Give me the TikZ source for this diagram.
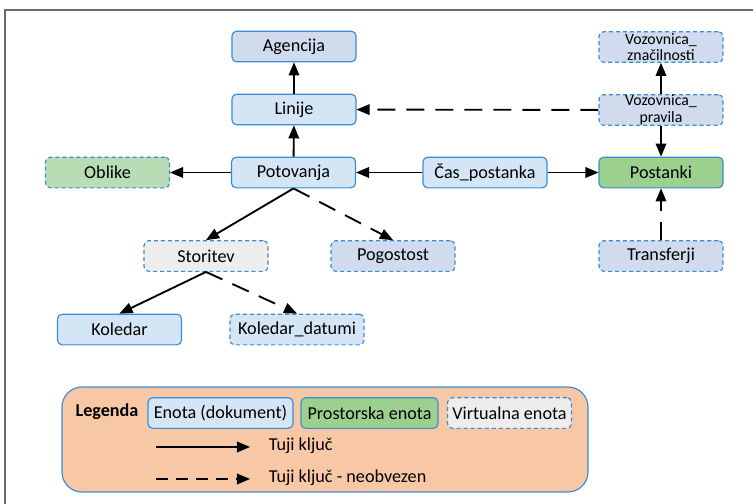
\documentclass[tikz,border=0pt]{standalone}
\usepackage{fontspec}
\setmainfont{Carlito}
\usepackage{tikz}
\usetikzlibrary{arrows, positioning}

\definecolor{edgeblue}{HTML}{3A8DD4}
\definecolor{docblue}{HTML}{D4E6F5}
\definecolor{virtblue}{HTML}{D0DCEE}
\definecolor{spacegreen}{HTML}{9CD08F}
\definecolor{lightgreen}{HTML}{B8DDB4}
\definecolor{virtgray}{HTML}{EDEDED}
\definecolor{legendbg}{HTML}{F8C8A6}
\definecolor{framegray}{HTML}{6A6A6A}

\begin{document}
\begin{tikzpicture}[->,
					>=triangle 45,
					line width=1.6pt,
					x=0.03cm, y=-0.03cm,
					font=\fontsize{15.5}{11.5}\selectfont,
					entity/.style={-, draw=edgeblue, line width=1pt, fill=docblue,
						rounded corners=4pt, minimum width=3.72cm, minimum height=0.92cm,
						inner sep=1pt, align=center},
					virtual/.style={entity, dash pattern=on 3.5pt off 2.5pt},
					twoline/.style={font=\fontsize{13.5}{14}\selectfont, inner sep=0pt},
					optional/.style={dash pattern=on 0.54cm off 0.33cm}]

	\useasboundingbox (0,0) rectangle (753,504);
	\draw[-, line width=1.2pt, framegray] (5,504) -- (5,10) -- (753,10);

	% entitete
	\node[entity, fill=virtblue] (agencija) at (294,46.5) {Agencija};
	\node[entity] (linije) at (294,109.5) {Linije};
	\node[entity] (potovanja) at (293.5,172.5) {Potovanja};
	\node[virtual, fill=lightgreen] (oblike) at (107.5,172.5) {Oblike};
	\node[entity] (caspostanka) at (485,172.5) {Čas\_postanka};
	\node[entity, fill=spacegreen] (postanki) at (661,172.5) {Postanki};
	\node[virtual, twoline, fill=virtblue] (vozznac) at (661,47) {Vozovnica\_\\značilnosti};
	\node[virtual, twoline, fill=virtblue] (vozprav) at (661,110) {Vozovnica\_\\pravila};
	\node[virtual, fill=virtblue] (transferji) at (661,256) {Transferji};
	\node[virtual, fill=virtgray] (storitev) at (206,256) {Storitev};
	\node[virtual, fill=virtblue] (pogostost) at (393,256) {Pogostost};
	\node[entity] (koledar) at (119.5,329.5) {Koledar};
	\node[virtual, minimum width=4.02cm] (koldatumi) at (297,329.5) {Koledar\_datumi};

	\draw	(linije) -- (agencija);
	\draw	(potovanja) -- (linije);
	\draw	(potovanja) -- (oblike);
	\draw	(caspostanka) -- (potovanja);
	\draw	(caspostanka) -- (postanki);
	\draw	(vozprav) -- (vozznac);
	\draw[optional] (vozprav) -- (linije);
	\draw[optional] (vozprav) -- (postanki);
	\draw[optional] (transferji) -- (postanki);
	\draw	(potovanja.south) -- (storitev.north);
	\draw[optional] (potovanja.south) -- (pogostost.north);
	\draw	(storitev.south) -- (koledar.north);
	\draw[optional] (storitev.south) -- (koldatumi.north);

	% legenda
	\draw[-, draw=edgeblue, line width=1pt, fill=legendbg, rounded corners=0.6cm]
		(62,387) rectangle (588,492);
	\node[font=\fontsize{15.5}{11.5}\selectfont\bfseries] (legenda) at (107,412) {Legenda};
	\node[entity, minimum width=4.35cm] (legdok) at (220.5,413) {Enota (dokument)};
	\node[entity, fill=spacegreen, minimum width=4.11cm] (legprost) at (369.5,413) {Prostorska enota};
	\node[virtual, fill=virtgray] (legvirt) at (509.5,413) {Virtualna enota};
	\coordinate (fk1) at (156,447);
	\coordinate (fk2) at (250,447);
	\coordinate (ofk1) at (156,479);
	\coordinate (ofk2) at (250,479);
	\draw	(fk1) -- (fk2);
	\draw[optional, dash pattern=on 0.36cm off 0.24cm] (ofk1) -- (ofk2);
	\node[anchor=west] (tujikljuc) at (264,446) {Tuji ključ};
	\node[anchor=west] (neobvezen) at (264,478) {Tuji ključ - neobvezen};
\end{tikzpicture}
\end{document}
